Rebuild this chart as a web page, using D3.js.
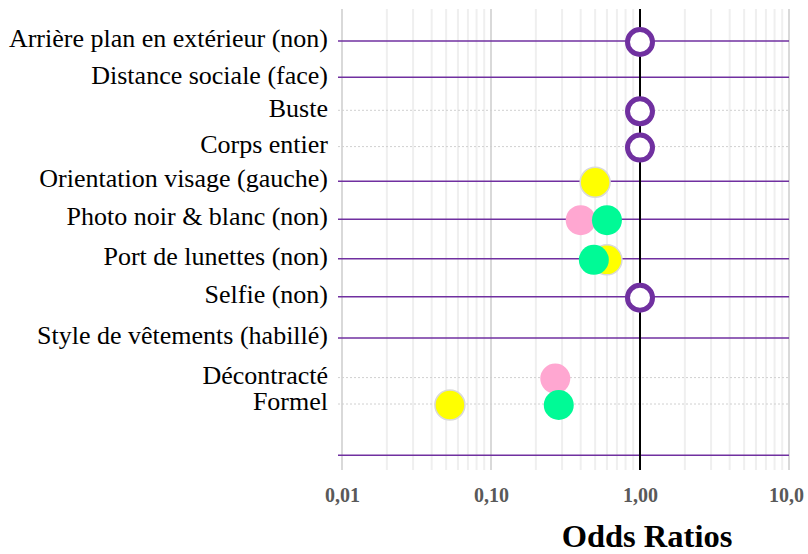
<!DOCTYPE html>
<html>
<head>
<meta charset="utf-8">
<script src="https://cdn.jsdelivr.net/npm/d3@7"></script>
<style>
  body { margin: 0; background: #fff; }
  svg { display: block; }
  .lbl text { font-family: "Liberation Serif", "Times New Roman", serif; }
</style>
</head>
<body>
<svg width="808" height="554"></svg>
<script>
// rows of the forest plot, top to bottom (last one is the empty bottom row)
var labels = ["Arrière plan en extérieur (non)", "Distance sociale (face)", "Buste", "Corps entier",
  "Orientation visage (gauche)", "Photo noir & blanc (non)", "Port de lunettes (non)", "Selfie (non)",
  "Style de vêtements (habillé)", "Décontracté", "Formel", ""];
// row position on the vertical value axis
var rowPos = [1.0, 2.1, 3.1, 4.2, 5.25, 6.4, 7.6, 8.75, 10.0, 11.2, 12.0, 13.55];
// main variable (true) or modality of the variable above (false)
var isMain = [true, true, false, false, true, true, true, true, true, false, false, true];

// odds ratios per series (null = no point)
var reference = [1, null, 1, 1, null, null, null, 1, null, null, null, null];
var yellowOR  = [null, null, null, null, 0.5, null, 0.6, null, null, null, 0.053, null];
var pinkOR    = [null, null, null, null, null, 0.40, null, null, null, 0.27, null, null];
var greenOR   = [null, null, null, null, null, 0.60, 0.49, null, null, null, 0.285, null];

var xTicks = [0.01, 0.1, 1, 10];
var xTickLabels = ["0,01", "0,10", "1,00", "10,0"];

var svg = d3.select("svg");

var x = d3.scaleLog().domain([0.01, 10]).range([342, 789]);
var y = d3.scaleLinear().domain([0, 14]).range([8, 470]);

// vertical grid, minor then major
var minor = [];
[0.01, 0.1, 1].forEach(function(d) {
  for (var k = 2; k <= 9; k++) minor.push(d * k);
});
svg.append("g").selectAll("line").data(minor).enter().append("line")
    .attr("x1", function(d) { return x(d); })
    .attr("x2", function(d) { return x(d); })
    .attr("y1", 9).attr("y2", 470)
    .attr("stroke", "#efefef").attr("stroke-width", 2);
svg.append("g").selectAll("line").data(xTicks).enter().append("line")
    .attr("x1", function(d) { return x(d); })
    .attr("x2", function(d) { return x(d); })
    .attr("y1", 9).attr("y2", 470)
    .attr("stroke", "#d9d9d9").attr("stroke-width", 2);

// horizontal row lines
var rows = labels.map(function(l, i) { return { label: l, pos: rowPos[i], main: isMain[i] }; });
svg.append("g").selectAll("line").data(rows).enter().append("line")
    .attr("x1", 338).attr("x2", x(10))
    .attr("y1", function(d) { return y(d.pos); })
    .attr("y2", function(d) { return y(d.pos); })
    .attr("stroke", function(d) { return d.main ? "#7030a0" : "#d0d0d0"; })
    .attr("stroke-width", function(d) { return d.main ? 1.5 : 1; })
    .attr("stroke-dasharray", function(d) { return d.main ? null : "2,2"; });

// reference line at OR = 1
svg.append("line")
    .attr("x1", x(1)).attr("x2", x(1))
    .attr("y1", 9).attr("y2", 470)
    .attr("stroke", "#000").attr("stroke-width", 2);

// row labels
var yAxis = d3.axisLeft(y)
    .tickValues(rowPos)
    .tickSize(0)
    .tickPadding(10)
    .tickFormat(function(d, i) { return labels[i]; });
var ya = svg.append("g").attr("class", "lbl")
    .attr("transform", "translate(338,0)")
    .call(yAxis);
ya.select(".domain").remove();
ya.selectAll("text").attr("font-size", 26).attr("dy", "0.22em").attr("fill", "#000");

// x axis tick labels
var xAxis = d3.axisBottom(x)
    .tickValues(xTicks)
    .tickSize(0)
    .tickPadding(0)
    .tickFormat(function(d, i) { return xTickLabels[i]; });
var xa = svg.append("g").attr("class", "lbl")
    .attr("transform", "translate(0,488)")
    .call(xAxis);
xa.select(".domain").remove();
xa.selectAll("text").attr("font-size", 20).attr("font-weight", "bold").attr("fill", "#595959");
xa.selectAll(".tick").filter(function(d) { return d === 10; }).select("text").attr("dx", -3);

svg.append("text").attr("class", "lbl")
    .attr("x", 647).attr("y", 547)
    .attr("text-anchor", "middle")
    .attr("font-family", "Liberation Serif, Times New Roman, serif")
    .attr("font-size", 32.5).attr("font-weight", "bold")
    .text("Odds Ratios");

// points
function drawSeries(values, fill, stroke) {
  var pts = [];
  values.forEach(function(v, i) { if (v != null) pts.push({ v: v, pos: rowPos[i] }); });
  svg.append("g").selectAll("circle").data(pts).enter().append("circle")
      .attr("cx", function(d) { return x(d.v); })
      .attr("cy", function(d) { return y(d.pos) + 1; })
      .attr("r", 15)
      .attr("fill", fill)
      .attr("stroke", stroke || "none")
      .attr("stroke-width", 1.5);
}
drawSeries(yellowOR, "#ffff00", "#d9d9d9");
drawSeries(pinkOR, "#ffa7d1");
drawSeries(greenOR, "#00fa96");

var refPts = [];
reference.forEach(function(v, i) { if (v != null) refPts.push({ v: v, pos: rowPos[i] }); });
svg.append("g").selectAll("circle").data(refPts).enter().append("circle")
    .attr("cx", function(d) { return x(d.v); })
    .attr("cy", function(d) { return y(d.pos) + 1; })
    .attr("r", 12.5)
    .attr("fill", "#fff")
    .attr("stroke", "#7030a0")
    .attr("stroke-width", 5);
</script>
</body>
</html>
